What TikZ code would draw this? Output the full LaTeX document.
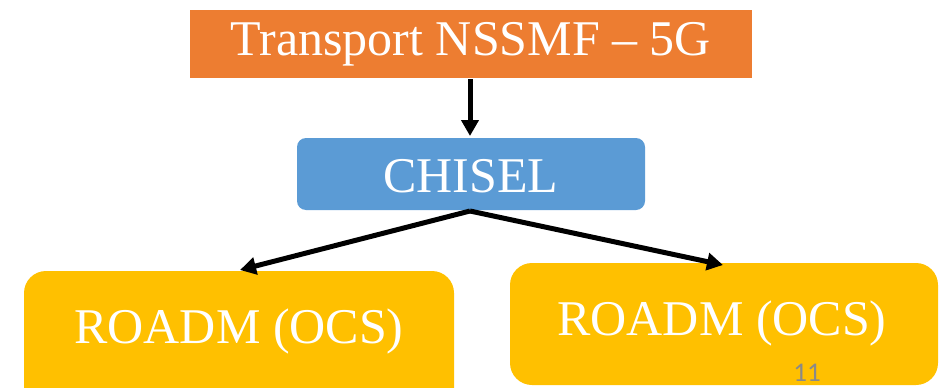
\documentclass[tikz,border=0pt]{standalone}
\usepackage{fontspec}
\setmainfont{Liberation Serif}
\newfontfamily\numfont{Carlito}
\usetikzlibrary{arrows.meta}
\definecolor{orangebox}{HTML}{ED7D31}
\definecolor{bluebox}{HTML}{5B9BD5}
\definecolor{yellowbox}{HTML}{FFC000}
\definecolor{pagenum}{HTML}{898989}
\tikzset{
  boxtext/.style={text=white, font=\fontsize{50}{54}\selectfont},
  conn/.style={line width=5pt, -{Triangle[length=16pt,width=17pt]}, shorten >=0pt}
}
\begin{document}
\begin{tikzpicture}[x=1pt,y=-1pt]
\useasboundingbox (0,0) rectangle (943,388);
\clip (0,0) rectangle (943,388);
\fill[orangebox] (190,10) rectangle (752,78);
\fill[bluebox, rounded corners=9pt] (297,138) rectangle (645,210);
\fill[yellowbox, rounded corners=22pt] (24,271) rectangle (454,410);
\fill[yellowbox, rounded corners=22pt] (510,263) rectangle (938,385);
\node[boxtext] (t) at (471,44) {Transport NSSMF – 5G};
\node[boxtext] (c) at (471,176) {CHISEL};
\node[boxtext] (l) at (239,331) {ROADM (OCS)};
\node[boxtext] (r) at (722,323) {ROADM (OCS)};
\coordinate (tb) at (470,79);
\coordinate (ct) at (470,136);
\coordinate (cb) at (470,211);
\coordinate (lt) at (240,270);
\coordinate (rt) at (723,265);
\draw[conn] (tb) -- (ct);
\draw[conn] (cb) -- (lt);
\draw[conn] (cb) -- (rt);
\node[text=pagenum, font=\numfont\fontsize{27}{29}\selectfont, inner sep=1pt] (p) at (807,373) {11};
\end{tikzpicture}
\end{document}
